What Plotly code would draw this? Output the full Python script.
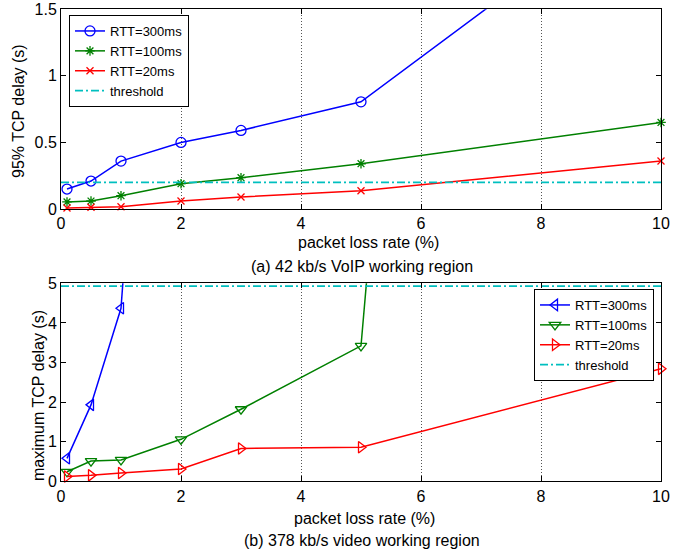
import plotly.graph_objects as go

# ---------------- data ----------------
loss_rate = [0.1, 0.5, 1, 2, 3, 5, 10]          # packet loss rate (%)
x_ticks = [0, 2, 4, 6, 8, 10]

# (a) 42 kb/s VoIP: 95% TCP delay (s)
voip_rtt300 = [0.15, 0.21, 0.36, 0.50, 0.59, 0.805, 2.48]
voip_rtt100 = [0.053, 0.06, 0.10, 0.19, 0.235, 0.34, 0.65]
voip_rtt20 = [0.008, 0.013, 0.017, 0.06, 0.09, 0.137, 0.36]
voip_threshold = 0.20

# (b) 378 kb/s video: maximum TCP delay (s)
video_x300 = [0.1, 0.5, 1, 2]
video_rtt300 = [0.58, 1.93, 4.37, 25.0]
video_x100 = [0.1, 0.5, 1, 2, 3, 5, 10]
video_rtt100 = [0.24, 0.51, 0.54, 1.06, 1.82, 3.42, 91.0]
video_rtt20 = [0.12, 0.15, 0.21, 0.31, 0.83, 0.86, 2.84]
video_threshold = 4.93

names = ["RTT=300ms", "RTT=100ms", "RTT=20ms", "threshold"]
colors = ["#0000ff", "#008000", "#ff0000", "#00bfbf"]

FONT = "Liberation Sans, Arial, Helvetica, sans-serif"

fig = go.Figure()

def add_series(x, y, name, color, symbol, xa, ya, legend, size=9):
    fig.add_trace(go.Scatter(
        x=x, y=y, name=name, mode="lines+markers",
        line=dict(color=color, width=1.5),
        marker=dict(symbol=symbol, size=size, color=color,
                    line=dict(color=color, width=1.3)),
        xaxis=xa, yaxis=ya, legend=legend, cliponaxis=False))

def add_threshold(level, xa, ya, legend):
    fig.add_trace(go.Scatter(
        x=[0, 10], y=[level, level], name=names[3], mode="lines",
        line=dict(color=colors[3], width=1.8, dash="8px,3px,2px,3px"),
        xaxis=xa, yaxis=ya, legend=legend))

# top subplot
add_series(loss_rate, voip_rtt300, names[0], colors[0], "circle-open", "x", "y", "legend", 10)
add_series(loss_rate, voip_rtt100, names[1], colors[1], "asterisk-open", "x", "y", "legend", 8)
add_series(loss_rate, voip_rtt20, names[2], colors[2], "x-thin-open", "x", "y", "legend", 7)
add_threshold(voip_threshold, "x", "y", "legend")

# bottom subplot
add_series(video_x300, video_rtt300, names[0], colors[0], "triangle-left-open", "x2", "y2", "legend2", 10)
add_series(video_x100, video_rtt100, names[1], colors[1], "triangle-down-open", "x2", "y2", "legend2", 10)
add_series(loss_rate, video_rtt20, names[2], colors[2], "triangle-right-open", "x2", "y2", "legend2", 10)
add_threshold(video_threshold, "x2", "y2", "legend2")

W, H = 695, 552


def px(x):
    return x / W


def py(y):
    return (H - y) / H


xl, xr = px(61), px(661)
top_dom = [py(209), py(9.3)]
bot_dom = [py(481.3), py(283.3)]

axis_common = dict(
    showline=True, linecolor="black", linewidth=1, mirror="ticks",
    ticks="inside", ticklen=5, tickcolor="black", zeroline=False,
    automargin=False,
    tickfont=dict(family=FONT, size=16, color="black"),
)
xcommon = dict(axis_common, range=[0, 10], tickvals=x_ticks,
               showgrid=True, gridcolor="#555", gridwidth=1, griddash="1px,2px",
               domain=[xl, xr])

legend_common = dict(bgcolor="white", bordercolor="black", borderwidth=1,
                     font=dict(family=FONT, size=13, color="black"),
                     tracegroupgap=0)

fig.update_layout(
    width=W, height=H,
    margin=dict(l=0, r=0, t=0, b=0, autoexpand=False),
    paper_bgcolor="white", plot_bgcolor="white",
    font=dict(family=FONT, color="black"),
    xaxis=dict(xcommon, anchor="y"),
    yaxis=dict(axis_common, range=[0, 1.5], tickvals=[0, 0.5, 1, 1.5],
               ticktext=["0", "0.5", "1", "1.5"], showgrid=False,
               domain=top_dom, anchor="x"),
    xaxis2=dict(xcommon, anchor="y2"),
    yaxis2=dict(axis_common, range=[0, 5], tickvals=[0, 1, 2, 3, 4, 5],
                showgrid=False, domain=bot_dom, anchor="x2"),
    legend=dict(legend_common, x=px(69), y=py(15), xanchor="left", yanchor="top"),
    legend2=dict(legend_common, x=px(654), y=py(289), xanchor="right", yanchor="top"),
    showlegend=True,
)

def ann(text, x, y, angle=0):
    fig.add_annotation(text=text, x=px(x), y=py(y), xref="paper", yref="paper",
                       showarrow=False, textangle=angle,
                       font=dict(family=FONT, size=16, color="black"),
                       xanchor="center", yanchor="middle")

ann("packet loss rate (%)", 368, 243)
ann("(a) 42 kb/s VoIP working region", 362, 266)
ann("95% TCP delay (s)", 18, 111, -90)
ann("packet loss rate (%)", 365, 518)
ann("(b) 378 kb/s video working region", 362, 540)
ann("maximum TCP delay (s)", 38, 396, -90)

fig.write_html("out.html",
               config={"displayModeBar": False},
               post_script="document.body.style.margin='0';"
                           "document.body.style.overflow='hidden';")
